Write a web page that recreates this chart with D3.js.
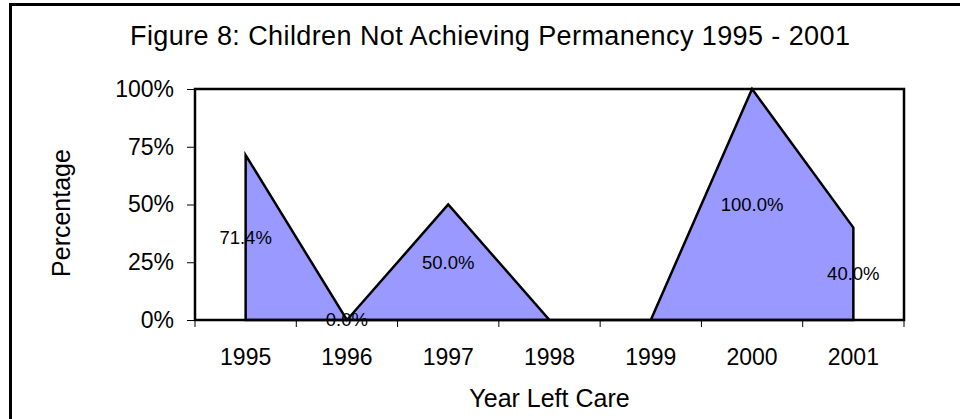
<!DOCTYPE html>
<html>
<head>
<meta charset="utf-8">
<script src="https://cdn.jsdelivr.net/npm/d3@7"></script>
<style>
  body { margin: 0; background: #fff; }
  text { font-family: "Liberation Sans", Arial, sans-serif; fill: #000; }
</style>
</head>
<body>
<div id="chart"></div>
<script>
// Data (1998 and 1999 have no value: drawn at zero, no label)
const years = ["1995", "1996", "1997", "1998", "1999", "2000", "2001"];
const values = [0.714, 0.0, 0.5, null, null, 1.0, 0.4];
const yTicks = [0, 0.25, 0.5, 0.75, 1];

const W = 960, H = 419;
const margin = { top: 89, right: 56, bottom: 99, left: 195 };
const width = W - margin.left - margin.right;
const height = H - margin.top - margin.bottom;

const data = years.map((d, i) => ({ year: d, value: values[i] }));

const svg = d3.select("#chart")
  .append("svg")
    .attr("width", W)
    .attr("height", H);

// outer frame (cropped on the right and bottom)
svg.append("rect")
  .attr("x", 10.5).attr("y", 4.5)
  .attr("width", W + 20).attr("height", H + 20)
  .attr("fill", "none")
  .attr("stroke", "#000")
  .attr("stroke-width", 3);

// title
svg.append("text")
  .attr("x", 490).attr("y", 45)
  .attr("text-anchor", "middle")
  .attr("textLength", 720)
  .attr("lengthAdjust", "spacing")
  .style("font-size", "27px")
  .text("Figure 8: Children Not Achieving Permanency 1995 - 2001");

const g = svg.append("g")
  .attr("transform", `translate(${margin.left},${margin.top})`);

// scales
const x = d3.scaleBand()
  .domain(years)
  .range([0, width])
  .padding(0);

const y = d3.scaleLinear()
  .domain([0, 1])
  .range([height, 0]);

const cx = d => x(d.year) + x.bandwidth() / 2;

// area
const area = d3.area()
  .x(cx)
  .y0(y(0))
  .y1(d => y(d.value == null ? 0 : d.value));

g.append("path")
  .datum(data)
  .attr("d", area)
  .attr("fill", "#9999ff")
  .attr("stroke", "#000")
  .attr("stroke-width", 2.5)
  .attr("stroke-linejoin", "miter");

// plot area border
g.append("rect")
  .attr("x", 0).attr("y", 0)
  .attr("width", width).attr("height", height)
  .attr("fill", "none")
  .attr("stroke", "#000")
  .attr("stroke-width", 2.5);

// y axis
const yAxis = g.append("g")
  .call(d3.axisLeft(y)
    .tickValues(yTicks)
    .tickSize(8)
    .tickPadding(13)
    .tickFormat(d3.format(".0%")));
yAxis.select(".domain").remove();
yAxis.selectAll("line").attr("stroke", "#000").attr("stroke-width", 1);
yAxis.selectAll("text")
  .style("font-size", "23px")
  .style("font-family", "'Liberation Sans', Arial, sans-serif");

// x axis: ticks between categories
const xAxis = g.append("g")
  .attr("transform", `translate(0,${height})`);
xAxis.selectAll("line")
  .data(d3.range(years.length + 1))
  .join("line")
  .attr("x1", i => i * x.bandwidth())
  .attr("x2", i => i * x.bandwidth())
  .attr("y1", 0)
  .attr("y2", 7)
  .attr("stroke", "#000")
  .attr("stroke-width", 1);
xAxis.selectAll("text")
  .data(data)
  .join("text")
  .attr("x", cx)
  .attr("y", 45)
  .attr("text-anchor", "middle")
  .style("font-size", "23px")
  .text(d => d.year);

// axis titles
svg.append("text")
  .attr("x", margin.left + width / 2)
  .attr("y", 407)
  .attr("text-anchor", "middle")
  .style("font-size", "25px")
  .text("Year Left Care");

svg.append("text")
  .attr("transform", `translate(70,213) rotate(-90)`)
  .attr("text-anchor", "middle")
  .style("font-size", "25px")
  .text("Percentage");

// data labels in the middle of each area column
g.selectAll(".label")
  .data(data.filter(d => d.value != null))
  .join("text")
  .attr("class", "label")
  .attr("x", cx)
  .attr("y", d => y(d.value / 2))
  .attr("dy", "0.35em")
  .attr("text-anchor", "middle")
  .style("font-size", "18.5px")
  .text(d => d3.format(".1%")(d.value));
</script>
</body>
</html>
